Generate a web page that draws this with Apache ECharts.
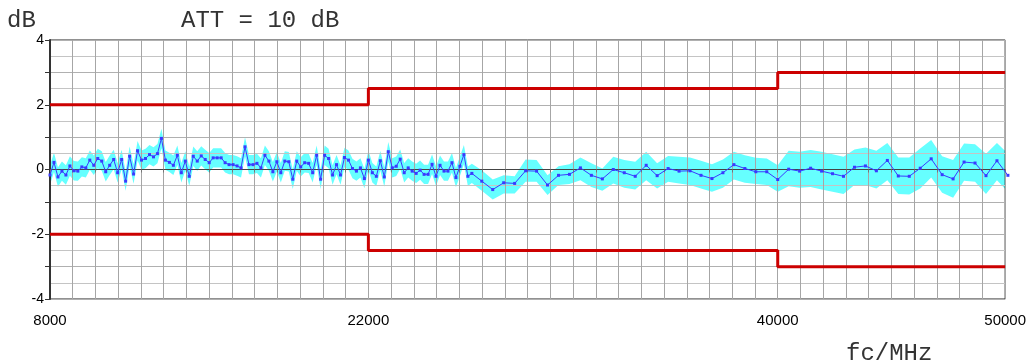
<!DOCTYPE html>
<html>
<head>
<meta charset="utf-8">
<script src="https://cdn.jsdelivr.net/npm/echarts@6/dist/echarts.min.js"></script>
<style>
  html, body { margin: 0; padding: 0; background: #fff; }
  #chart { width: 1029px; height: 363px; }
</style>
</head>
<body>
<div id="chart"></div>
<script>
// Fine sweep 8000 – 26550 MHz (frequency, deviation in dB)
const fineFreq = [
  8000, 8175, 8350, 8525, 8700, 8875, 9050, 9225, 9400, 9575,
  9750, 9925, 10100, 10275, 10450, 10625, 10800, 10975, 11150, 11325,
  11500, 11675, 11850, 12025, 12200, 12375, 12550, 12725, 12900, 13075,
  13250, 13425, 13600, 13775, 13950, 14125, 14300, 14475, 14650, 14825,
  15000, 15175, 15350, 15525, 15700, 15875, 16050, 16225, 16400, 16575,
  16750, 16925, 17100, 17275, 17450, 17625, 17800, 17975, 18150, 18325,
  18500, 18675, 18850, 19025, 19200, 19375, 19550, 19725, 19900, 20075,
  20250, 20425, 20600, 20775, 20950, 21125, 21300, 21475, 21650, 21825,
  22000, 22175, 22350, 22525, 22700, 22875, 23050, 23225, 23400, 23575,
  23750, 23925, 24100, 24275, 24450, 24625, 24800, 24975, 25150, 25325,
  25500, 25675, 25850, 26025, 26200, 26375, 26550
];
const fineDev = [
  -0.17, 0.22, -0.23, -0.05, -0.17, 0.11, -0.04, -0.05, 0.08, 0.05,
  0.29, 0.13, 0.34, 0.26, -0.07, 0.13, 0.31, -0.10, 0.31, -0.36,
  0.41, -0.14, 0.58, 0.29, 0.34, 0.46, 0.39, 0.49, 0.96, 0.29,
  0.22, 0.13, 0.44, -0.10, 0.26, -0.21, 0.41, 0.26, 0.42, 0.31,
  0.21, 0.36, 0.36, 0.36, 0.21, 0.15, 0.15, 0.11, 0.05, 0.70,
  0.15, 0.15, 0.19, 0.05, 0.44, 0.26, -0.07, 0.24, -0.10, 0.26,
  0.24, -0.30, 0.26, 0.08, 0.21, 0.19, -0.10, 0.44, -0.30, 0.44,
  0.34, -0.17, 0.15, -0.17, 0.37, 0.29,
  0.03, -0.05, 0.05, -0.28, 0.29, -0.10, -0.21, 0.27, -0.23, 0.55,
  0.05, 0.10, 0.32, -0.10, 0.05, -0.05, -0.12, -0.02, -0.15, -0.15,
  0.16, -0.21, 0.13, -0.05, -0.05, 0.21, -0.25, 0.10, 0.46, -0.21, -0.12
];
// Uncertainty of the fine sweep, dB (symmetric)
const fineUncertainty = 0.3;

// Coarse sweep 26986 – 50122 MHz with its own upper/lower uncertainty bounds
const coarseFreq = [
  26986, 27468, 27950, 28432, 28914, 29396, 29878, 30360, 30842, 31324,
  31806, 32288, 32770, 33252, 33734, 34216, 34698, 35180, 35662, 36144,
  36626, 37108, 37590, 38072, 38554, 39036, 39518, 40000, 40482, 40964,
  41446, 41928, 42410, 42892, 43374, 43856, 44338, 44820, 45302, 45784,
  46266, 46748, 47230, 47712, 48194, 48676, 49158, 49640, 50122
];
const coarseDev = [
  -0.36, -0.62, -0.41, -0.43, -0.04, -0.05, -0.48, -0.18, -0.15, 0.05,
  -0.18, -0.29, 0.00, -0.10, -0.21, 0.13, -0.19, 0.03, -0.05, -0.04,
  -0.18, -0.28, -0.10, 0.15, 0.03, -0.07, -0.07, -0.31, 0.01, -0.05,
  0.04, -0.05, -0.13, -0.21, 0.07, 0.11, -0.04, 0.28, -0.20, -0.21,
  0.04, 0.33, -0.16, -0.29, 0.23, 0.20, -0.19, 0.27, -0.18
];
const coarseUpper = [
  -0.02, -0.31, -0.18, -0.21, 0.31, 0.29, -0.18, 0.10, 0.16, 0.37,
  0.19, 0.03, 0.39, 0.29, 0.24, 0.55, 0.19, 0.42, 0.39, 0.37,
  0.27, 0.16, 0.31, 0.55, 0.44, 0.36, 0.34, 0.13, 0.58, 0.55,
  0.60, 0.55, 0.47, 0.39, 0.62, 0.68, 0.58, 0.82, 0.37, 0.37,
  0.65, 0.91, 0.41, 0.29, 0.80, 0.78, 0.49, 0.82, 0.49
];
const coarseLower = [
  -0.66, -0.93, -0.74, -0.74, -0.38, -0.38, -0.79, -0.48, -0.45, -0.33,
  -0.54, -0.66, -0.43, -0.56, -0.62, -0.33, -0.59, -0.38, -0.43, -0.48,
  -0.59, -0.69, -0.56, -0.31, -0.41, -0.45, -0.48, -0.69, -0.52, -0.56,
  -0.54, -0.62, -0.69, -0.76, -0.48, -0.48, -0.59, -0.33, -0.76, -0.77,
  -0.59, -0.25, -0.72, -0.87, -0.35, -0.38, -0.76, -0.33, -0.69
];

// Tolerance limits (dB) per band: [from MHz, to MHz, limit]
const limitBands = [
  [8000, 22000, 2.0],
  [22000, 40000, 2.5],
  [40000, 50000, 3.0]
];

// Axis ranges and labelled ticks
const xMin = 8000, xMax = 50000, xStep = 1000;
const xLabelled = [8000, 22000, 40000, 50000];
const yMin = -4, yMax = 4;
const yLabelled = [-4, -2, 0, 2, 4];

// Combined trace and its uncertainty envelope
const allFreq = fineFreq.concat(coarseFreq);
const allDev = fineDev.concat(coarseDev);
const envUpper = fineDev.map(v => v + fineUncertainty).concat(coarseUpper);
const envLower = fineDev.map(v => v - fineUncertainty).concat(coarseLower);

// Step-shaped limit lines
function limitLine(sign) {
  const pts = [];
  limitBands.forEach(b => {
    pts.push([b[0], sign * b[2]]);
    pts.push([b[1], sign * b[2]]);
  });
  return pts;
}

const chart = echarts.init(document.getElementById('chart'), null, { renderer: 'canvas' });

const monoFont = '"Liberation Mono", "DejaVu Sans Mono", monospace';
const sansFont = '"Liberation Sans", Arial, sans-serif';

chart.setOption({
  animation: false,
  backgroundColor: '#ffffff',
  grid: {
    left: 50, right: 23, top: 40, bottom: 64,
    show: true, borderColor: '#222', borderWidth: 1, backgroundColor: 'transparent'
  },
  xAxis: {
    type: 'value',
    min: xMin, max: xMax, interval: xStep,
    axisLine: { show: true, lineStyle: { color: '#444', width: 1 } },
    axisTick: { show: true, length: 3, lineStyle: { color: '#777' } },
    axisLabel: {
      color: '#000', fontSize: 15, fontFamily: sansFont, margin: 14,
      showMinLabel: true, showMaxLabel: true, hideOverlap: false,
      formatter: v => (xLabelled.indexOf(v) >= 0 ? String(v) : '')
    },
    splitLine: { show: true, lineStyle: { color: '#a6a6a6', width: 1 } }
  },
  yAxis: {
    type: 'value',
    min: yMin, max: yMax, interval: 1,
    axisLine: { show: true, lineStyle: { color: '#333', width: 2 } },
    axisTick: { show: true, length: 5, lineStyle: { color: '#333' } },
    axisLabel: {
      color: '#000', fontSize: 14, fontFamily: sansFont, margin: 6,
      formatter: v => (yLabelled.indexOf(v) >= 0 ? String(v) : '')
    },
    splitLine: { show: true, lineStyle: { color: '#b0b0b0', width: 1 } },
    minorTick: { show: false, splitNumber: 2 },
    minorSplitLine: { show: true, lineStyle: { color: '#c4c4c4', width: 1 } }
  },
  graphic: [
    { type: 'text', left: 7, top: 9, style: { text: 'dB', font: '24px ' + monoFont, fill: '#333' } },
    { type: 'text', left: 181, top: 9, style: { text: 'ATT = 10 dB', font: '24px ' + monoFont, fill: '#333' } },
    { type: 'text', left: 846, top: 342, style: { text: 'fc/MHz', font: '24px ' + monoFont, fill: '#333' } }
  ],
  series: [
    {
      // uncertainty envelope, drawn beneath the grid lines
      type: 'custom',
      z: -1,
      clip: true,
      silent: true,
      data: [[xMin, 0]],
      renderItem: function (params, api) {
        const pts = [];
        for (let i = 0; i < allFreq.length; i++) pts.push(api.coord([allFreq[i], envUpper[i]]));
        for (let i = allFreq.length - 1; i >= 0; i--) pts.push(api.coord([allFreq[i], envLower[i]]));
        return { type: 'polygon', shape: { points: pts }, style: { fill: '#66ffff', stroke: null } };
      }
    },
    {
      type: 'line',
      data: limitLine(1),
      symbol: 'none',
      lineStyle: { color: '#cc0000', width: 3 },
      z: 3
    },
    {
      type: 'line',
      data: limitLine(-1),
      symbol: 'none',
      lineStyle: { color: '#cc0000', width: 3 },
      z: 3
    },
    {
      type: 'line',
      data: allFreq.map((f, i) => [f, allDev[i]]),
      symbol: 'rect',
      symbolSize: 3,
      showAllSymbol: true,
      clip: false,
      itemStyle: { color: '#3a3aff' },
      lineStyle: { color: '#3a3aff', width: 1 },
      z: 4
    }
  ]
});
</script>
</body>
</html>
